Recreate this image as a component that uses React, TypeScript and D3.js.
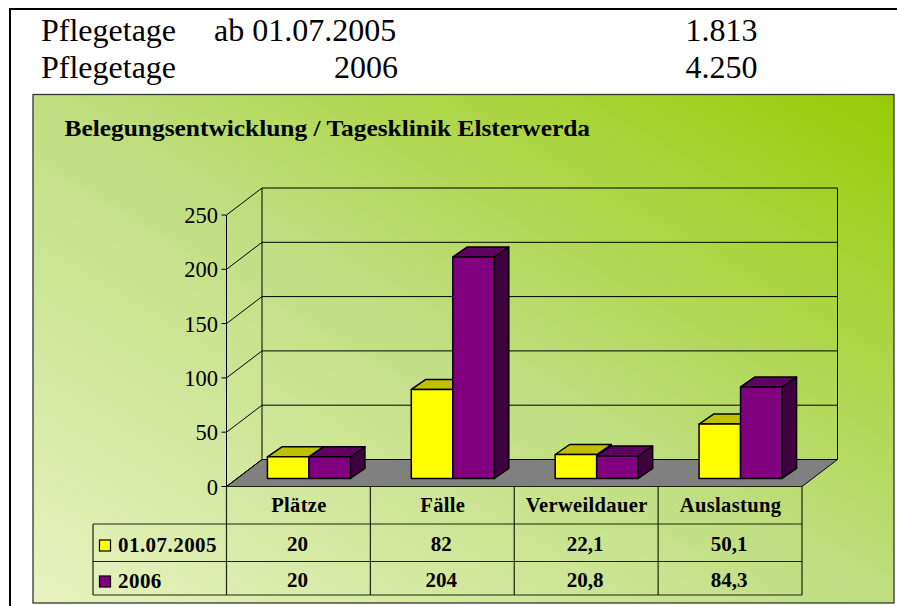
import React from "react";
import * as d3 from "d3";

const categories = ["Plätze", "Fälle", "Verweildauer", "Auslastung"];
const seriesNames = ["01.07.2005", "2006"];
const values2005 = [20, 82, 22.1, 50.1];
const values2006 = [20, 204, 20.8, 84.3];
const labels2005 = ["20", "82", "22,1", "50,1"];
const labels2006 = ["20", "204", "20,8", "84,3"];
const yTicks = [0, 50, 100, 150, 200, 250];
const headerRows = [
  ["Pflegetage", "ab 01.07.2005", "1.813"],
  ["Pflegetage", "2006", "4.250"],
];
const title = "Belegungsentwicklung / Tagesklinik Elsterwerda";

const serif = "'Liberation Serif', 'Times New Roman', serif";
const W = 897, H = 606;
const depthX = 35.5, depthY = -27;
const barDX = 14.5, barDY = -10;
const y = d3.scaleLinear().domain([0, 250]).range([486.5, 215]);
const x = d3.scaleBand<string>().domain(categories).range([226.5, 802]);
const barFrontShift = 10.5, barBaseLift = 8;
const barW = 41.5;
const colors = [
  { front: "#ffff00", top: "#c0c000", side: "#808000" },
  { front: "#800080", top: "#600060", side: "#400040" },
];
const poly = (pts: number[][]) => pts.map((p) => p.join(",")).join(" ");

function Bar({ x0, v, c }: { x0: number; v: number; c: (typeof colors)[number] }) {
  const base = y(0) - barBaseLift;
  const top = base - (y(0) - y(v));
  const x1 = x0 + barW;
  const s = { stroke: "#000", strokeWidth: 1.5, strokeLinejoin: "round" as const };
  return (
    <g>
      <polygon points={poly([[x1, base], [x1 + barDX, base + barDY], [x1 + barDX, top + barDY], [x1, top]])} fill={c.side} {...s} />
      <polygon points={poly([[x0, top], [x0 + barDX, top + barDY], [x1 + barDX, top + barDY], [x1, top]])} fill={c.top} {...s} />
      <rect x={x0} y={top} width={barW} height={base - top} fill={c.front} {...s} />
    </g>
  );
}

export default function App() {
  const floorY = y(0), leftX = x.range()[0], rightX = x.range()[1];
  const backX = leftX + depthX, backRight = rightX + depthX;
  const rowY = [486.5, 524, 561.5, 595];
  const tableLeft = 93;
  const lineCol = "#1c2410";
  return (
    <svg width={W} height={H} style={{ position: "absolute", left: 0, top: 0, display: "block" }} fontFamily={serif}>
      <defs>
        <linearGradient id="bg" x1="0" y1="1" x2="1" y2="0">
          <stop offset="0" stopColor="#e8f2c0" />
          <stop offset="0.5" stopColor="#c0de80" />
          <stop offset="1" stopColor="#98cc05" />
        </linearGradient>
      </defs>
      <rect width={W} height={H} fill="#fff" />
      <path d={`M10 ${H} V9 H${W}`} fill="none" stroke="#000" strokeWidth={2} />
      {headerRows.map((r, i) => {
        const by = 41 + i * 37;
        return (
          <g key={i} fontSize={32} fill="#000">
            <text x={41} y={by}>{r[0]}</text>
            <text x={i === 0 ? 214 : 334} y={by}>{r[1]}</text>
            <text x={721.5} y={by} textAnchor="middle">{r[2]}</text>
          </g>
        );
      })}
      <rect x={33} y={94.5} width={861} height={508.5} fill="url(#bg)" stroke="#333" strokeWidth={1.3} />
      <text x={64.5} y={136} fontSize={24} fontWeight="bold" textLength={525.5} lengthAdjust="spacingAndGlyphs">{title}</text>

      <polygon points={poly([[leftX, floorY], [backX, floorY + depthY], [backRight, floorY + depthY], [rightX, floorY]])} fill="#808080" stroke="#000" strokeWidth={1} />
      {yTicks.map((t) => (
        <g key={t}>
          <path d={`M${leftX - 5} ${y(t)} H${leftX} L${backX} ${y(t) + depthY} H${backRight}`} fill="none" stroke="#000" strokeWidth={1} />
          <text x={leftX - 8.5} y={y(t) + 8} textAnchor="end" fontSize={22.5}>{t}</text>
        </g>
      ))}
      <path d={`M${backX} ${y(250) + depthY} V${floorY + depthY} M${backRight} ${y(250) + depthY} V${floorY + depthY}`} stroke="#000" strokeWidth={1} fill="none" />
      <path d={`M${leftX} ${y(250)} V${floorY}`} stroke="#000" strokeWidth={1} fill="none" />

      {categories.map((c, i) => {
        const x0 = (x(c) as number) + (x.bandwidth() - 2 * barW) / 2 + barFrontShift;
        return (
          <g key={c}>
            <Bar x0={x0} v={values2005[i]} c={colors[0]} />
            <Bar x0={x0 + barW} v={values2006[i]} c={colors[1]} />
          </g>
        );
      })}

      <g stroke={lineCol} strokeWidth={1.2} fill="none">
        <path d={`M${leftX} ${rowY[0]} H${rightX}`} />
        {[1, 2, 3].map((r) => <path key={r} d={`M${tableLeft} ${rowY[r]} H${rightX}`} />)}
        <path d={`M${tableLeft} ${rowY[1]} V${rowY[3]}`} />
        <path d={`M${leftX} ${rowY[0]} V${rowY[3]}`} />
        {categories.map((c) => (
          <path key={c} d={`M${(x(c) as number) + x.bandwidth()} ${rowY[0]} V${rowY[3]}`} />
        ))}
      </g>
      <g fontWeight="bold" fill="#000" textAnchor="middle">
        {categories.map((c, i) => {
          const cx = (x(c) as number) + x.bandwidth() / 2;
          return (
            <g key={c}>
              <text x={cx + 0.5} y={512} fontSize={20.5} letterSpacing={0.35}>{c}</text>
              <text x={cx - 1} y={551} fontSize={21}>{labels2005[i]}</text>
              <text x={cx - 1} y={587} fontSize={21}>{labels2006[i]}</text>
            </g>
          );
        })}
      </g>
      {seriesNames.map((n, i) => (
        <g key={n}>
          <rect x={99.5} y={540 + i * 36} width={11} height={11} fill={colors[i].front} stroke="#000" strokeWidth={1.2} />
          <text x={118} y={552 + i * 36} fontSize={21} fontWeight="bold" letterSpacing={0.45}>{n}</text>
        </g>
      ))}
    </svg>
  );
}
